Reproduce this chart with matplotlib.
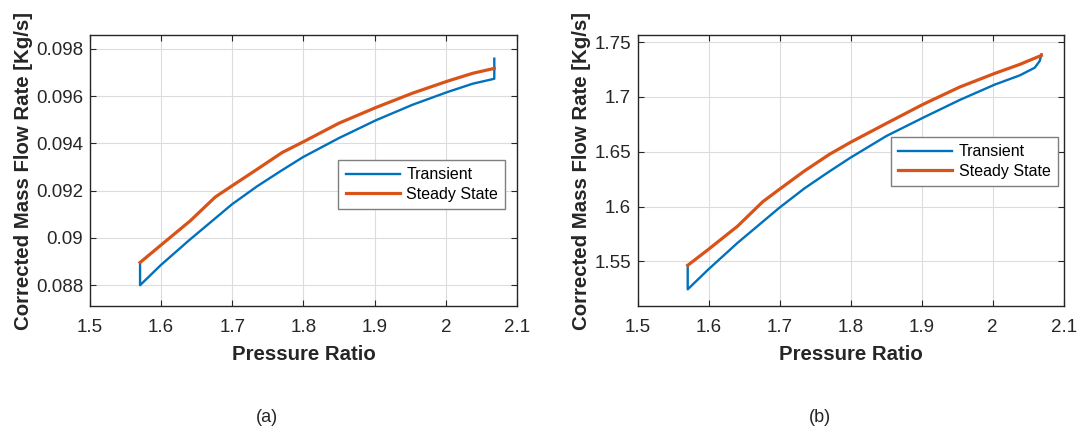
import matplotlib.pyplot as plt
import numpy as np

plt.rcParams["font.family"] = ["Liberation Sans", "DejaVu Sans"]

# (a) small compressor
pr_tr_a = [1.5704, 1.5704, 1.5995, 1.6408, 1.6690, 1.6995, 1.7347, 1.7676, 1.7995,
           1.8497, 1.9014, 1.9531, 2.0024, 2.0376, 2.0681, 2.0681]
tr_a = [0.08896, 0.08800, 0.08885, 0.08994, 0.09065, 0.09142, 0.09218, 0.09282, 0.09342,
        0.09422, 0.09497, 0.09563, 0.09617, 0.09652, 0.09673, 0.09758]
pr_ss_a = [1.5704, 1.5995, 1.6408, 1.6761, 1.6995, 1.7347, 1.7700, 1.7995,
           1.8497, 1.9014, 1.9531, 2.0024, 2.0376, 2.0681]
ss_a = [0.08896, 0.08969, 0.09072, 0.09173, 0.09220, 0.09290, 0.09361, 0.09406,
        0.09485, 0.09551, 0.09612, 0.09663, 0.09696, 0.09717]

# (b) large compressor
pr_tr_b = [1.5704, 1.5704, 1.5995, 1.6408, 1.6995, 1.7347, 1.7676, 1.7995,
           1.8502, 1.9019, 1.9536, 2.0029, 2.0381, 2.0592, 2.0662, 2.0686]
tr_b = [1.5464, 1.5245, 1.5427, 1.5670, 1.5989, 1.6165, 1.6310, 1.6445,
        1.6643, 1.6810, 1.6972, 1.7112, 1.7196, 1.7266, 1.7327, 1.7388]
pr_ss_b = [1.5704, 1.5995, 1.6408, 1.6761, 1.6995, 1.7347, 1.7700, 1.7995,
           1.8502, 1.9019, 1.9536, 2.0029, 2.0381, 2.0686]
ss_b = [1.5464, 1.5609, 1.5822, 1.6044, 1.6157, 1.6324, 1.6476, 1.6585,
        1.6758, 1.6932, 1.7090, 1.7214, 1.7296, 1.7378]

BLUE = "#0072BD"
ORANGE = "#D95319"
INK = "#262626"


def draw(ax, pr_tr, tr, pr_ss, ss, ylim, yticks, ylabels, leg_anchor):
    ax.plot(pr_tr, tr, color=BLUE, lw=1.7, label="Transient", zorder=3)
    ax.plot(pr_ss, ss, color=ORANGE, lw=2.3, label="Steady State", zorder=4)
    ax.set_xlim(1.5, 2.1)
    ax.set_ylim(*ylim)
    ax.set_xticks(np.arange(1.5, 2.11, 0.1))
    ax.set_xticklabels(["1.5", "1.6", "1.7", "1.8", "1.9", "2", "2.1"])
    ax.set_yticks(yticks)
    ax.set_yticklabels(ylabels)
    ax.grid(True, color="#dcdcdc", lw=0.8)
    ax.set_axisbelow(True)
    ax.tick_params(direction="in", top=True, right=True, labelsize=13.5,
                   colors=INK, length=4)
    ax.tick_params(axis="x", pad=9)
    ax.tick_params(axis="y", pad=5)
    for s in ax.spines.values():
        s.set_color(INK)
        s.set_linewidth(1.0)
    ax.set_xlabel("Pressure Ratio", fontsize=14.7, fontweight="bold", color=INK, labelpad=7)
    ax.set_ylabel("Corrected Mass Flow Rate [Kg/s]", fontsize=14.7, fontweight="bold",
                  color=INK, labelpad=2)
    leg = ax.legend(loc="upper right", bbox_to_anchor=leg_anchor, fontsize=11.5,
                    fancybox=False, edgecolor="#7f7f7f", framealpha=1,
                    handlelength=3.4, borderpad=0.45, labelspacing=0.3,
                    handletextpad=0.4, borderaxespad=0)
    leg.get_frame().set_linewidth(1.0)


fig = plt.figure(figsize=(10.8, 4.34), dpi=100)
ax1 = fig.add_axes([0.0833, 0.2949, 0.3954, 0.6244])
ax2 = fig.add_axes([0.5905, 0.2949, 0.3944, 0.6244])

draw(ax1, pr_tr_a, tr_a, pr_ss_a, ss_a, (0.08712, 0.09858),
     [0.088, 0.090, 0.092, 0.094, 0.096, 0.098],
     ["0.088", "0.09", "0.092", "0.094", "0.096", "0.098"], (0.9726, 0.5387))
draw(ax2, pr_tr_b, tr_b, pr_ss_b, ss_b, (1.5093, 1.7564),
     [1.55, 1.6, 1.65, 1.7, 1.75],
     ["1.55", "1.6", "1.65", "1.7", "1.75"], (0.986, 0.6236))

fig.text(0.247, 0.037, "(a)", ha="center", va="center", fontsize=13, color=INK)
fig.text(0.759, 0.037, "(b)", ha="center", va="center", fontsize=13, color=INK)

fig.savefig("out.png", dpi=100)
